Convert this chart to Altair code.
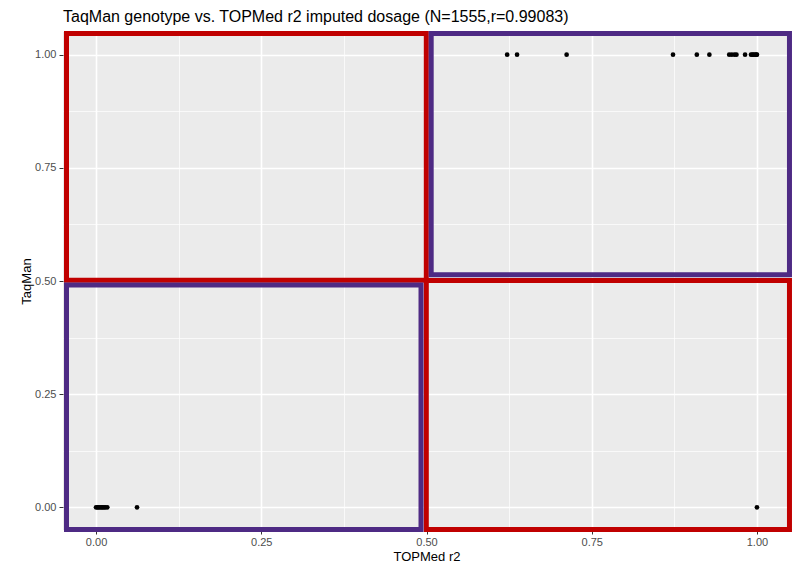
import altair as alt
import pandas as pd

# Observations (TOPMed r2 imputed dosage vs TaqMan genotype)
topmed_r2 = [0.622, 0.637, 0.712, 0.873, 0.909, 0.928, 0.958, 0.962, 0.966, 0.969,
             0.982, 0.991, 0.993, 0.995, 0.997, 0.999, 1.0,
             0.0, 0.002, 0.004, 0.006, 0.008, 0.010, 0.012, 0.014, 0.017, 0.062,
             1.0]
taqman = [1, 1, 1, 1, 1, 1, 1, 1, 1, 1,
          1, 1, 1, 1, 1, 1, 1,
          0, 0, 0, 0, 0, 0, 0, 0, 0, 0,
          0]

# Highlight boxes (data coordinates)
box_x1 = [-0.0447, 0.5071, 0.4997, -0.0447]
box_x2 = [0.4997, 1.0492, 1.0492, 0.4917]
box_y1 = [0.5018, 0.5137, -0.0487, -0.0487]
box_y2 = [1.0465, 1.0465, 0.5011, 0.4912]
box_kind = ["discordant A", "concordant A", "discordant B", "concordant B"]
box_colors = ["#C00000", "#4E2A84", "#C00000", "#4E2A84"]

tick_values = [0, 0.125, 0.25, 0.375, 0.5, 0.625, 0.75, 0.875, 1.0]

pts = pd.DataFrame({"r2": topmed_r2, "taqman": taqman})
boxes = pd.DataFrame({"x1": box_x1, "x2": box_x2, "y1": box_y1, "y2": box_y2, "kind": box_kind})

major_test = "abs(datum.value*4 - round(datum.value*4)) < 0.001"

def make_axis(title, **kw):
    return alt.Axis(
        title=title,
        values=tick_values,
        labelExpr=f"{major_test} ? format(datum.value, '.2f') : ''",
        grid=True,
        gridColor="#FFFFFF",
        gridWidth={"condition": {"test": major_test, "value": 1.6}, "value": 0.7},
        tickOpacity={"condition": {"test": major_test, "value": 1}, "value": 0},
        tickColor="#333333",
        tickSize=4,
        tickWidth=1,
        domain=False,
        labelColor="#4D4D4D",
        labelFont="Liberation Sans",
        labelFontSize=11,
        titleFont="Liberation Sans",
        titleFontSize=13,
        titleFontWeight="normal",
        titleColor="#000000",
        **kw,
    )

xscale = alt.Scale(domain=[-0.05, 1.05], nice=False, zero=False)
yscale = alt.Scale(domain=[-0.05, 1.05], nice=False, zero=False)

points = alt.Chart(pts).mark_circle(size=22, color="#000000", opacity=1).encode(
    x=alt.X("r2:Q", scale=xscale, axis=make_axis("TOPMed r2", labelPadding=2, titlePadding=3)),
    y=alt.Y("taqman:Q", scale=yscale, axis=make_axis("TaqMan", labelPadding=3, titlePadding=1)),
)

rects = alt.Chart(boxes).mark_rect(fillOpacity=0, strokeWidth=5).encode(
    x="x1:Q",
    x2="x2",
    y="y1:Q",
    y2="y2",
    stroke=alt.Stroke("kind:N", scale=alt.Scale(domain=box_kind, range=box_colors), legend=None),
)

chart = alt.layer(points, rects).properties(
    width=727,
    height=498,
    title=alt.TitleParams(
        "TaqMan genotype vs. TOPMed r2 imputed dosage (N=1555,r=0.99083)",
        anchor="start",
        frame="group",
        font="Liberation Sans",
        fontSize=16,
        fontWeight="normal",
        color="#000000",
        offset=6,
    ),
    autosize=alt.AutoSizeParams(type="none"),
    padding={"left": 63, "top": 32, "right": 4, "bottom": 33},
    background="#FFFFFF",
).configure_view(fill="#EBEBEB", stroke=None)

chart.save("out.html", embed_options={"renderer": "svg", "actions": False})
